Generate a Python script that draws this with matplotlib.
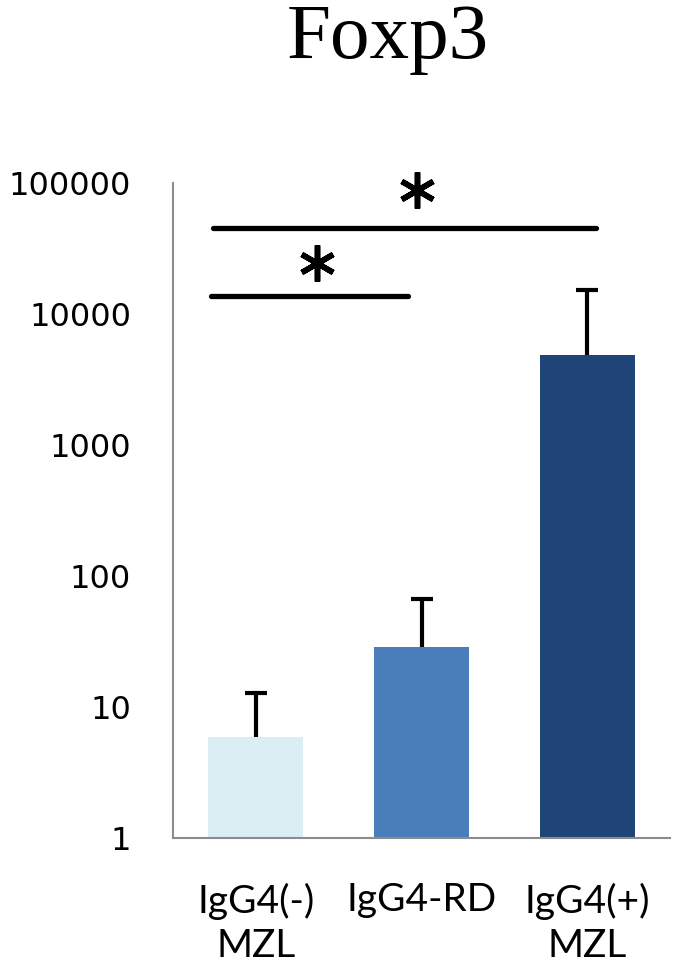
import numpy as np
import matplotlib
matplotlib.use('Agg')
import matplotlib.pyplot as plt

# values
groups = ['IgG4(-)\nMZL', 'IgG4-RD', 'IgG4(+)\nMZL']
means = [5.9, 28.7, 4850]
err_top = [12.8, 66.7, 15200]   # top of the (upper only) error bars
colors = ['#dbeef4', '#4a7ebb', '#1f4478']

# significance brackets: (x start, x end, y level, star x, star y)
sig_lines = [(-0.26, 2.05, 45000, 0.97, 88000),
             (-0.27, 0.92, 13700, 0.37, 24500)]

yticks = [1, 10, 100, 1000, 10000, 100000]

fig = plt.figure(figsize=(6.75, 9.66), dpi=100)
ax = fig.add_axes([0.256, 0.1325, 0.737, 0.678])

x = np.arange(len(groups))
ax.bar(x, means, width=0.57, color=colors, zorder=2)
# upper-only error bars
ax.vlines(x, means, err_top, color='black', lw=3, zorder=3)
ax.plot(x, err_top, ls='none', marker='_', markersize=16,
        markeredgewidth=3, color='black', zorder=3)

for x0, x1, yl, sx, sy in sig_lines:
    ax.plot([x0, x1], [yl, yl], color='black', lw=3.8,
            solid_capstyle='round', zorder=4, clip_on=False)
    ax.plot(sx, sy, marker=(6, 2, 0), markersize=26, color='black',
            markeredgewidth=4, zorder=4, clip_on=False)

ax.set_yscale('log')
ax.set_ylim(1, 100000)
ax.set_xlim(-0.5, 2.5)
ax.set_yticks(yticks)
ax.set_yticklabels([str(v) for v in yticks], fontsize=23, family='DejaVu Sans')
ax.minorticks_off()
ax.tick_params(axis='y', length=0, pad=30)
ax.set_xticks(x)
ax.set_xticklabels(groups, fontsize=28, family='Lato', linespacing=1.3)
ax.tick_params(axis='x', length=0, pad=32)

for s in ['top', 'right']:
    ax.spines[s].set_visible(False)
for s in ['left', 'bottom']:
    ax.spines[s].set_color('#8c8c8c')
    ax.spines[s].set_linewidth(1.5)

fig.text(0.575, 0.94, 'Foxp3', fontsize=57, family='Liberation Serif',
         ha='center', va='baseline')

fig.savefig('out.png', dpi=100)
